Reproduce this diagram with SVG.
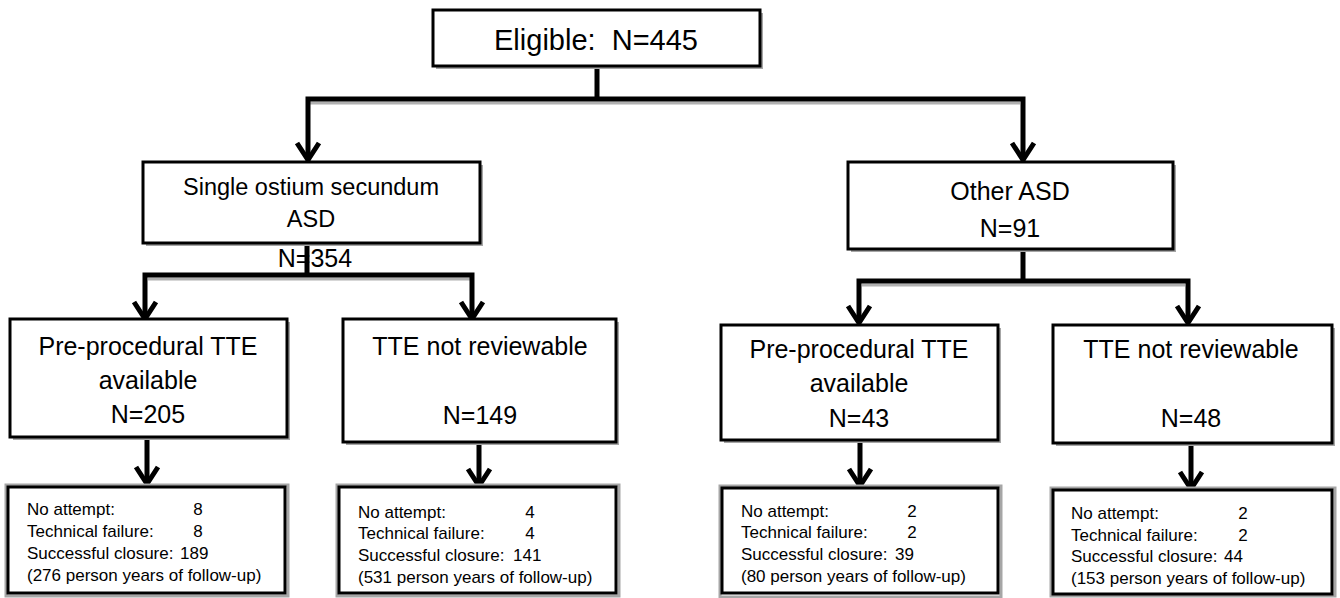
<svg xmlns="http://www.w3.org/2000/svg" width="1340" height="598" viewBox="0 0 1340 598">
<style>
.box{fill:#fff;stroke:#000;stroke-width:3}
.sh{fill:#a6a6a6}
.halo{fill:none;stroke:#a6a6a6;stroke-width:3}
.ln{fill:none;stroke:#000;stroke-width:5;stroke-linecap:square;stroke-linejoin:miter}
.lsh{fill:none;stroke:#b0b0b0;stroke-width:3}
.ah{fill:none;stroke:#000;stroke-width:5;stroke-linecap:butt;stroke-linejoin:miter}
text{font-family:"Liberation Sans",Arial,sans-serif;fill:#000}
.big{font-size:25px;text-anchor:middle}
.top{font-size:29px;text-anchor:middle}
.sm{font-size:17px}
.num{font-size:17px;text-anchor:middle}
</style>
<rect width="1340" height="598" fill="#fff"/>

<g id="connectors">
  <line class="lsh" x1="310" y1="103" x2="1020" y2="103"/>
  <line class="lsh" x1="148" y1="279" x2="470" y2="279"/>
  <line class="lsh" x1="862" y1="285" x2="1185" y2="285"/>
  <path class="ln" d="M597 66 V99 M308 99 H1023 M308 99 V158 M1023 99 V158"/>
  <path class="ah" d="M297 143 L308 160 L319 143 M1012 143 L1023 160 L1034 143"/>
  <path class="ln" d="M307 243 V275 M145 275 H472 M145 275 V316 M472 275 V316"/>
  <path class="ah" d="M134 302 L145 319 L156 302 M461 302 L472 319 L483 302"/>
  <path class="ln" d="M1023 250 V281 M859 281 H1188 M859 281 V320 M1188 281 V320"/>
  <path class="ah" d="M848 306 L859 323 L870 306 M1177 306 L1188 323 L1199 306"/>
  <path class="ln" d="M147 438 V480 M479 443 V482 M860 441 V482 M1191 444 V485"/>
  <path class="ah" d="M136 467 L147 484 L158 467 M468 469 L479 486 L490 469 M849 469 L860 486 L871 469 M1180 472 L1191 489 L1202 472"/>
</g>

<g id="eligible">
  <rect class="sh" x="436" y="13" width="327" height="56"/>
  <rect class="box" x="433" y="10" width="327" height="56"/>
  <text class="top" x="596" y="50" xml:space="preserve">Eligible:  N=445</text>
</g>

<g id="secundum">
  <rect class="sh" x="146" y="165" width="337" height="81"/>
  <rect class="box" x="143" y="162" width="337" height="81"/>
  <text class="big" x="311" y="195" style="font-size:23.5px">Single ostium secundum</text>
  <text class="big" x="311" y="227" style="font-size:23.5px">ASD</text>
  <text class="big" x="315" y="267">N=354</text>
</g>

<g id="other">
  <rect class="sh" x="851" y="165" width="325" height="87"/>
  <rect class="box" x="848" y="162" width="325" height="87"/>
  <text class="big" x="1010" y="200">Other ASD</text>
  <text class="big" x="1010" y="237">N=91</text>
</g>

<g id="sec-tte">
  <rect class="sh" x="13" y="322" width="277" height="118"/>
  <rect class="box" x="10" y="319" width="277" height="118"/>
  <text class="big" x="148" y="355">Pre-procedural TTE</text>
  <text class="big" x="148" y="389">available</text>
  <text class="big" x="148" y="423">N=205</text>
</g>

<g id="sec-notrev">
  <rect class="sh" x="346" y="322" width="273" height="123"/>
  <rect class="box" x="343" y="319" width="273" height="123"/>
  <text class="big" x="480" y="355">TTE not reviewable</text>
  <text class="big" x="480" y="424">N=149</text>
</g>

<g id="oth-tte">
  <rect class="sh" x="724" y="328" width="277" height="115"/>
  <rect class="box" x="721" y="325" width="277" height="115"/>
  <text class="big" x="859" y="358">Pre-procedural TTE</text>
  <text class="big" x="859" y="392">available</text>
  <text class="big" x="859" y="427">N=43</text>
</g>

<g id="oth-notrev">
  <rect class="sh" x="1056" y="328" width="279" height="118"/>
  <rect class="box" x="1053" y="325" width="279" height="118"/>
  <text class="big" x="1191" y="358">TTE not reviewable</text>
  <text class="big" x="1191" y="427">N=48</text>
</g>

<g id="sec-tte-out">
  <rect class="halo" x="6" y="485" width="282" height="111"/>
  <rect class="box" x="8" y="487" width="277" height="106"/>
  <text class="sm" x="27" y="515">No attempt:</text><text class="num" x="198" y="515">8</text>
  <text class="sm" x="27" y="537">Technical failure:</text><text class="num" x="198" y="537">8</text>
  <text class="sm" x="27" y="559">Successful closure:</text><text class="sm" x="180" y="559">189</text>
  <text class="sm" x="27" y="581">(276 person years of follow-up)</text>
</g>

<g id="sec-notrev-out">
  <rect class="halo" x="337" y="485" width="282" height="111"/>
  <rect class="box" x="339" y="487" width="277" height="106"/>
  <text class="sm" x="358" y="518">No attempt:</text><text class="num" x="530" y="518">4</text>
  <text class="sm" x="358" y="539">Technical failure:</text><text class="num" x="530" y="539">4</text>
  <text class="sm" x="358" y="561">Successful closure:</text><text class="sm" x="513" y="561">141</text>
  <text class="sm" x="358" y="583">(531 person years of follow-up)</text>
</g>

<g id="oth-tte-out">
  <rect class="halo" x="720" y="486" width="281" height="111"/>
  <rect class="box" x="722" y="488" width="276" height="105"/>
  <text class="sm" x="741" y="517">No attempt:</text><text class="num" x="912" y="517">2</text>
  <text class="sm" x="741" y="538">Technical failure:</text><text class="num" x="912" y="538">2</text>
  <text class="sm" x="741" y="560">Successful closure:</text><text class="sm" x="895" y="560">39</text>
  <text class="sm" x="741" y="582">(80 person years of follow-up)</text>
</g>

<g id="oth-notrev-out">
  <rect class="halo" x="1051" y="488" width="284" height="108"/>
  <rect class="box" x="1053" y="490" width="279" height="104"/>
  <text class="sm" x="1071" y="519">No attempt:</text><text class="num" x="1243" y="519">2</text>
  <text class="sm" x="1071" y="541">Technical failure:</text><text class="num" x="1243" y="541">2</text>
  <text class="sm" x="1071" y="562">Successful closure:</text><text class="sm" x="1224" y="562">44</text>
  <text class="sm" x="1071" y="584">(153 person years of follow-up)</text>
</g>
</svg>
